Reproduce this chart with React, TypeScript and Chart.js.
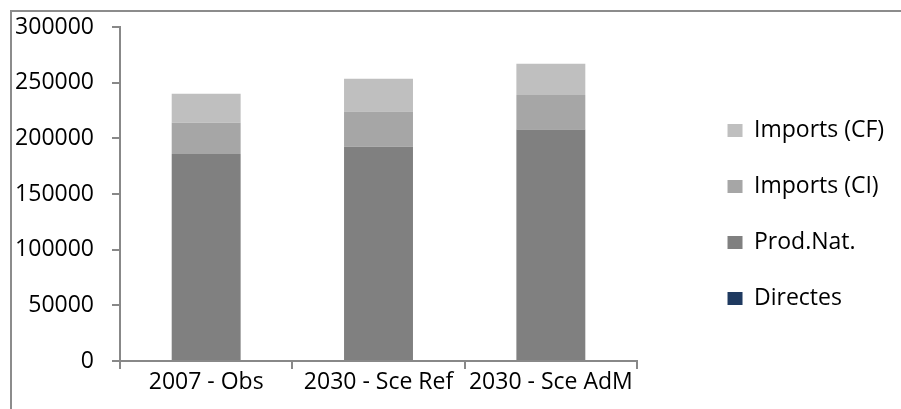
import React, { useEffect, useRef } from "react";
import { Chart, registerables } from "chart.js";

Chart.register(...registerables);

const categories = ["2007 - Obs", "2030 - Sce Ref", "2030 - Sce AdM"];
const directes = [0, 0, 0];
const prodNat = [186000, 192500, 208000];
const importsCI = [28000, 31500, 31000];
const importsCF = [26000, 29500, 28000];
const yTicks = [0, 50000, 100000, 150000, 200000, 250000, 300000];

const FONT = "'Open Sans', sans-serif";
const FONT_SIZE = 23;
const AXIS = "#888888";

// outer chart frame (Excel-style border)
const framePlugin = {
  id: "frame",
  beforeDraw(chart: any) {
    const ctx = chart.ctx;
    ctx.save();
    ctx.fillStyle = "#ffffff";
    ctx.fillRect(0, 0, chart.width, chart.height);
    ctx.strokeStyle = "#8c8c8c";
    ctx.lineWidth = 2;
    ctx.strokeRect(11, 11, chart.width + 20, chart.height + 20);
    ctx.restore();
  },
};

export default function App() {
  const ref = useRef<HTMLCanvasElement>(null);

  useEffect(() => {
    if (!ref.current) return;
    const chart = new Chart(ref.current, {
      type: "bar",
      data: {
        labels: categories,
        datasets: [
          { label: "Directes", data: directes, backgroundColor: "#1F3A60" },
          { label: "Prod.Nat.", data: prodNat, backgroundColor: "#808080" },
          { label: "Imports (CI)", data: importsCI, backgroundColor: "#A6A6A6" },
          { label: "Imports (CF)", data: importsCF, backgroundColor: "#BFBFBF" },
        ],
      },
      options: {
        animation: false,
        responsive: false,
        devicePixelRatio: 1,
        layout: { padding: { left: 15, top: 27, right: 6.9, bottom: 12.4 } },
        datasets: {
          bar: { categoryPercentage: 1, barPercentage: 0.4, borderWidth: 0 },
        },
        plugins: {
          tooltip: { enabled: false },
          legend: {
            position: "right",
            reverse: true,
            maxWidth: 230,
            // empty title only nudges the legend entries slightly downward
            title: { display: true, text: "", font: { size: 4 }, padding: 0.3 },
            labels: {
              color: "#000",
              font: { family: FONT, size: FONT_SIZE },
              boxWidth: 15,
              boxHeight: 13,
              padding: 33,
            },
          },
        },
        scales: {
          x: {
            stacked: true,
            border: { color: AXIS, width: 2 },
            grid: {
              display: true,
              drawOnChartArea: false,
              drawTicks: true,
              tickLength: 8,
              color: AXIS,
              lineWidth: 2,
              offset: true,
            },
            ticks: { color: "#000", font: { family: FONT, size: FONT_SIZE }, padding: 0 },
          },
          y: {
            stacked: true,
            min: 0,
            max: 300000,
            afterBuildTicks(scale: any) {
              scale.ticks = yTicks.map((v) => ({ value: v }));
            },
            afterFit(scale: any) {
              scale.width = 105;
              scale.paddingTop = 0;
            },
            border: { color: AXIS, width: 2 },
            grid: {
              display: true,
              drawOnChartArea: false,
              drawTicks: true,
              tickLength: 8,
              color: AXIS,
              lineWidth: 2,
            },
            ticks: {
              color: "#000",
              font: { family: FONT, size: FONT_SIZE },
              padding: 18,
              callback: (v: any) => String(v),
            },
          },
          // empty gutter between the plot and the legend
          gap: {
            type: "linear",
            position: "right",
            display: true,
            grid: { display: false },
            border: { display: false },
            ticks: { display: false },
            afterFit(scale: any) {
              scale.width = 57.5;
            },
          },
        },
      },
      plugins: [framePlugin],
    });
    return () => chart.destroy();
  }, []);

  return (
    <div style={{ position: "fixed", left: 0, top: 0, width: 901, height: 409 }}>
      <canvas ref={ref} width={901} height={409} style={{ width: 901, height: 409 }} />
    </div>
  );
}
